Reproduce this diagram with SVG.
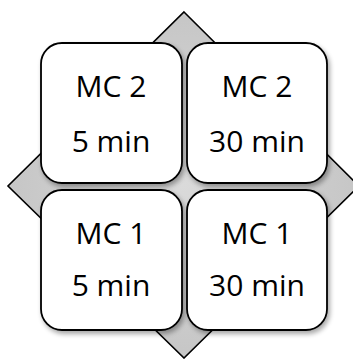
<svg xmlns="http://www.w3.org/2000/svg" width="353" height="359" viewBox="0 0 353 359">
  <style>
    .card { fill: #ffffff; stroke: #000000; stroke-width: 1.8; filter: url(#shadow); }
    .label { font-family: "Open Sans", "Liberation Sans", sans-serif; font-size: 30px; fill: #000000; text-anchor: middle; }
  </style>
  <defs>
    <radialGradient id="diamondFill" cx="50%" cy="50%" r="60%">
      <stop offset="0" stop-color="#dadada"/>
      <stop offset="1" stop-color="#c2c2c2"/>
    </radialGradient>
    <filter id="shadow" x="-10%" y="-10%" width="125%" height="125%">
      <feGaussianBlur in="SourceAlpha" stdDeviation="2.5"/>
      <feOffset dx="2" dy="3" result="blur"/>
      <feComponentTransfer><feFuncA type="linear" slope="0.35"/></feComponentTransfer>
      <feMerge><feMergeNode/><feMergeNode in="SourceGraphic"/></feMerge>
    </filter>
  </defs>

  <!-- background diamond -->
  <g id="diamond">
    <polygon points="184,12 359,186 184,358 8,186" fill="url(#diamondFill)" stroke="#000" stroke-width="1.6" stroke-linejoin="miter"/>
  </g>

  <g id="connectors"></g>

  <g id="mc2-5min">
    <rect class="card" x="41" y="43" width="141" height="140" rx="21"/>
    <text class="label" x="111" y="97">MC 2</text>
    <text class="label" x="111" y="152">5 min</text>
  </g>
  <g id="mc2-30min">
    <rect class="card" x="187" y="43" width="140" height="140" rx="21"/>
    <text class="label" x="257" y="97">MC 2</text>
    <text class="label" x="257" y="152">30 min</text>
  </g>
  <g id="mc1-5min">
    <rect class="card" x="41" y="190" width="141" height="140" rx="21"/>
    <text class="label" x="111" y="244">MC 1</text>
    <text class="label" x="111" y="296">5 min</text>
  </g>
  <g id="mc1-30min">
    <rect class="card" x="187" y="190" width="140" height="140" rx="21"/>
    <text class="label" x="257" y="244">MC 1</text>
    <text class="label" x="257" y="296">30 min</text>
  </g>
</svg>
